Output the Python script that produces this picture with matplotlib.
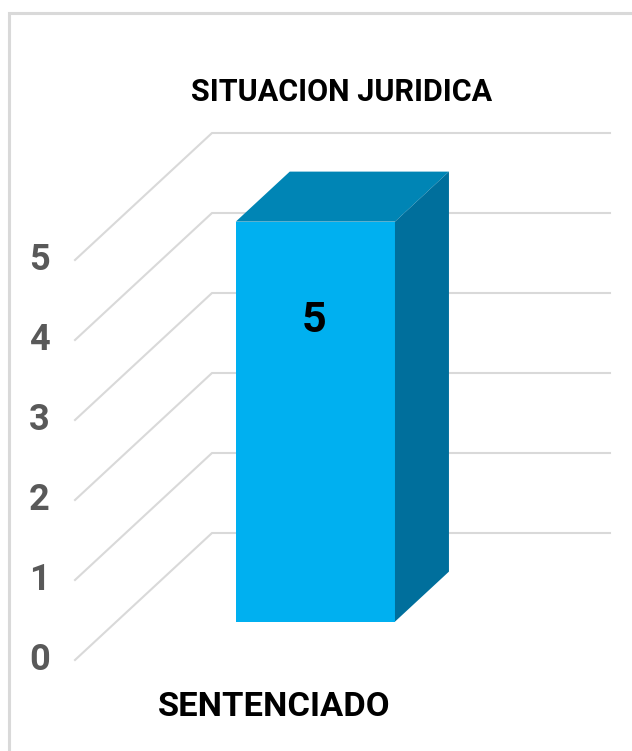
import matplotlib
matplotlib.use("Agg")
import matplotlib.pyplot as plt
from matplotlib.patches import Rectangle
from matplotlib.transforms import ScaledTranslation

titulo = "SITUACION JURIDICA"
categorias = ["SENTENCIADO"]
valores = [5]
ticks = [0, 1, 2, 3, 4, 5]

W, H = 632, 751
fuente = "Roboto"

fig = plt.figure(figsize=(W / 100, H / 100), dpi=100, facecolor="white")

# marco del grafico
fig.add_artist(Rectangle((9 / W, -0.05), 1.1, 1 - 13 / H + 0.05, transform=fig.transFigure,
                         fc="white", ec="#D9D9D9", lw=2.2, zorder=-1))

# plano frontal: x 75..473 px, y 660..260 px
ax = fig.add_axes([75 / W, 1 - 660 / H, 398 / W, 400 / H])
ax.set_xlim(-0.5, 0.5)
ax.set_ylim(0, 5)
for s in ax.spines.values():
    s.set_visible(False)
ax.patch.set_visible(False)

# fondo 3D en unidades de datos
fondo_x = 137 / 398
fondo_y = 127 / 80
ini = 0.302
fin = 0.696
ancho = 0.4

# lineas de cuadricula
for t in ticks:
    ax.plot([-0.5, -0.5 + fondo_x, 0.5 + fondo_x], [t, t + fondo_y, t + fondo_y],
            color="#D9D9D9", lw=1.5, clip_on=False, zorder=1, solid_joinstyle="miter")

# barra
for i, v in enumerate(valores):
    x0 = i - ancho / 2 + ini * fondo_x
    x1 = i + ancho / 2 + ini * fondo_x
    y0 = ini * fondo_y
    d = (fin - ini)
    dx = d * fondo_x
    dy = d * fondo_y
    ax.bar(i + ini * fondo_x, v, ancho, bottom=y0, color="#00B0F0", clip_on=False, zorder=3)
    ax.fill([x0, x1, x1 + dx, x0 + dx], [y0 + v, y0 + v, y0 + v + dy, y0 + v + dy],
            color="#0085B5", lw=0, clip_on=False, zorder=3)
    ax.fill([x1, x1 + dx, x1 + dx, x1], [y0, y0 + dy, y0 + v + dy, y0 + v],
            color="#006F9C", lw=0, clip_on=False, zorder=3)
    ax.text(i + ini * fondo_x - 0.003, y0 + v - 1.24, str(v), ha="center", va="center",
            family=fuente, weight="bold", fontsize=31, color="black", zorder=4)

ax.set_yticks(ticks)
ax.set_yticklabels([str(t) for t in ticks], family=fuente, weight="bold", fontsize=26, color="#595959")
ax.set_xticks(range(len(categorias)))
ax.set_xticklabels(categorias, family=fuente, weight="bold", fontsize=24.8, color="black")
ax.tick_params(axis="y", length=0, pad=18)
ax.tick_params(axis="x", length=0, pad=22)

# subir un poco las etiquetas del eje y
sube = ScaledTranslation(0, 3.5 / 100, fig.dpi_scale_trans)
for lab in ax.get_yticklabels():
    lab.set_transform(lab.get_transform() + sube)

fig.text(342 / W, 1 - 92 / H, titulo, ha="center", va="center", family=fuente,
         weight="bold", fontsize=22, color="black")

fig.savefig("out.png", dpi=100, facecolor="white")
